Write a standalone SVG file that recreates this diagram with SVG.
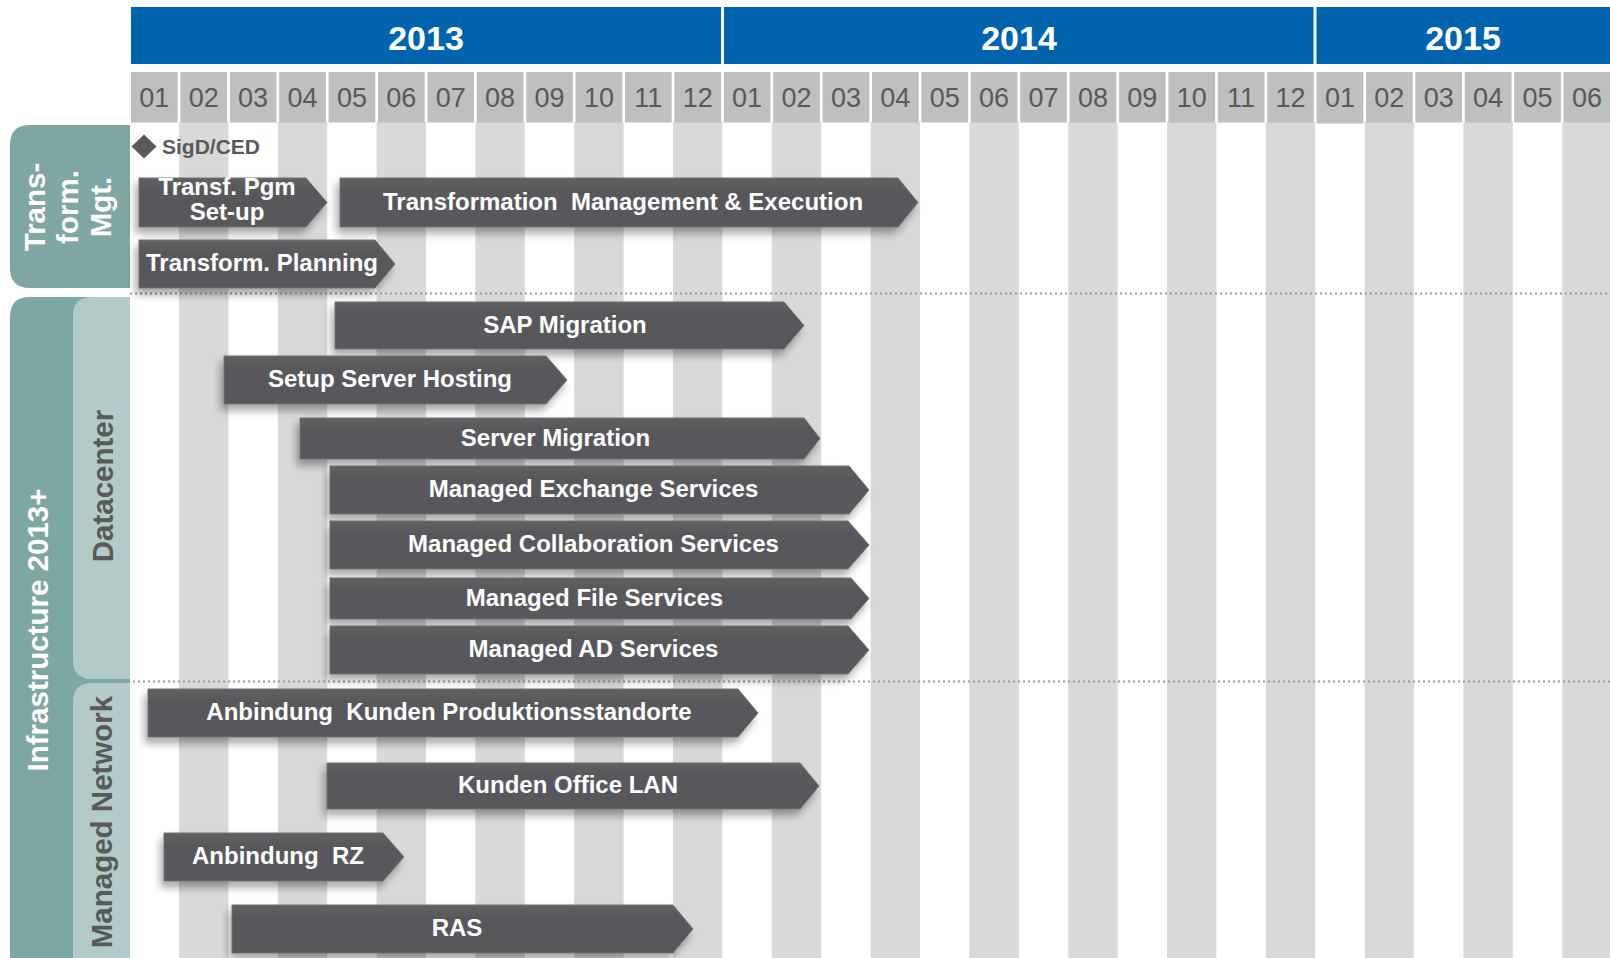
<svg xmlns="http://www.w3.org/2000/svg" width="1610" height="958" viewBox="0 0 1610 958">
<defs>
<style>
.yr{fill:#0063ae}
.yt{font-family:"Liberation Sans",Arial,sans-serif;font-weight:bold;font-size:34px;fill:#fff;text-anchor:middle}
.mc{fill:#bfbfbf}
.mt{font-family:"Liberation Sans",Arial,sans-serif;font-size:27px;fill:#595959;text-anchor:middle}
.st{fill:#d9d9d9}
.bar{fill:url(#bg);stroke:#6f7072;stroke-width:1;filter:url(#sh)}
.bt{font-family:"Liberation Sans",Arial,sans-serif;font-weight:bold;font-size:24px;fill:#fff;text-anchor:middle}
.lt{font-family:"Liberation Sans",Arial,sans-serif;font-weight:bold;font-size:29.5px;text-anchor:middle}
.sep{stroke:#9a9a9a;stroke-width:2;stroke-dasharray:2 3;fill:none}
</style>
<linearGradient id="bg" x1="0" y1="0" x2="0" y2="1">
<stop offset="0" stop-color="#5f6062"/>
<stop offset="0.25" stop-color="#58595b"/>
<stop offset="1" stop-color="#58595b"/>
</linearGradient>
<filter id="sh" x="-10%" y="-30%" width="120%" height="180%">
<feGaussianBlur in="SourceAlpha" stdDeviation="4"/>
<feOffset dx="-3" dy="6" result="b"/>
<feComponentTransfer><feFuncA type="linear" slope="0.35"/></feComponentTransfer>
<feMerge><feMergeNode/><feMergeNode in="SourceGraphic"/></feMerge>
</filter>
</defs>
<rect width="1610" height="958" fill="#fff"/>

<g id="stripes">
<rect class="st" x="179" y="122" width="49.4" height="836"/>
<rect class="st" x="277.8" y="122" width="49.4" height="836"/>
<rect class="st" x="376.6" y="122" width="49.4" height="836"/>
<rect class="st" x="475.4" y="122" width="49.4" height="836"/>
<rect class="st" x="574.2" y="122" width="49.4" height="836"/>
<rect class="st" x="673" y="122" width="49.4" height="836"/>
<rect class="st" x="771.8" y="122" width="49.4" height="836"/>
<rect class="st" x="870.6" y="122" width="49.4" height="836"/>
<rect class="st" x="969.4" y="122" width="49.4" height="836"/>
<rect class="st" x="1068.2" y="122" width="49.4" height="836"/>
<rect class="st" x="1167" y="122" width="49.4" height="836"/>
<rect class="st" x="1265.8" y="122" width="49.4" height="836"/>
<rect class="st" x="1364.6" y="122" width="49.4" height="836"/>
<rect class="st" x="1463.4" y="122" width="49.4" height="836"/>
<rect class="st" x="1562.2" y="122" width="49.4" height="836"/>
</g>

<g id="years">
<rect class="yr" x="131" y="7" width="590" height="57"/>
<text class="yt" x="426" y="50">2013</text>
<rect class="yr" x="724" y="7" width="589.5" height="57"/>
<text class="yt" x="1019" y="50">2014</text>
<rect class="yr" x="1316.5" y="7" width="293.5" height="57"/>
<text class="yt" x="1463" y="50">2015</text>
</g>

<g id="months">
<rect class="mc" x="131" y="72" width="46.7" height="50.5"/><text class="mt" x="154.3" y="107">01</text>
<rect class="mc" x="180.4" y="72" width="46.7" height="50.5"/><text class="mt" x="203.7" y="107">02</text>
<rect class="mc" x="229.8" y="72" width="46.7" height="50.5"/><text class="mt" x="253.1" y="107">03</text>
<rect class="mc" x="279.2" y="72" width="46.7" height="50.5"/><text class="mt" x="302.5" y="107">04</text>
<rect class="mc" x="328.6" y="72" width="46.7" height="50.5"/><text class="mt" x="351.9" y="107">05</text>
<rect class="mc" x="378" y="72" width="46.7" height="50.5"/><text class="mt" x="401.3" y="107">06</text>
<rect class="mc" x="427.4" y="72" width="46.7" height="50.5"/><text class="mt" x="450.7" y="107">07</text>
<rect class="mc" x="476.8" y="72" width="46.7" height="50.5"/><text class="mt" x="500.1" y="107">08</text>
<rect class="mc" x="526.2" y="72" width="46.7" height="50.5"/><text class="mt" x="549.5" y="107">09</text>
<rect class="mc" x="575.6" y="72" width="46.7" height="50.5"/><text class="mt" x="598.9" y="107">10</text>
<rect class="mc" x="625" y="72" width="46.7" height="50.5"/><text class="mt" x="648.3" y="107">11</text>
<rect class="mc" x="674.4" y="72" width="46.7" height="50.5"/><text class="mt" x="697.7" y="107">12</text>
<rect class="mc" x="723.8" y="72" width="46.7" height="50.5"/><text class="mt" x="747.1" y="107">01</text>
<rect class="mc" x="773.2" y="72" width="46.7" height="50.5"/><text class="mt" x="796.5" y="107">02</text>
<rect class="mc" x="822.6" y="72" width="46.7" height="50.5"/><text class="mt" x="845.9" y="107">03</text>
<rect class="mc" x="872" y="72" width="46.7" height="50.5"/><text class="mt" x="895.3" y="107">04</text>
<rect class="mc" x="921.4" y="72" width="46.7" height="50.5"/><text class="mt" x="944.7" y="107">05</text>
<rect class="mc" x="970.8" y="72" width="46.7" height="50.5"/><text class="mt" x="994.1" y="107">06</text>
<rect class="mc" x="1020.2" y="72" width="46.7" height="50.5"/><text class="mt" x="1043.5" y="107">07</text>
<rect class="mc" x="1069.6" y="72" width="46.7" height="50.5"/><text class="mt" x="1092.9" y="107">08</text>
<rect class="mc" x="1119" y="72" width="46.7" height="50.5"/><text class="mt" x="1142.3" y="107">09</text>
<rect class="mc" x="1168.4" y="72" width="46.7" height="50.5"/><text class="mt" x="1191.7" y="107">10</text>
<rect class="mc" x="1217.8" y="72" width="46.7" height="50.5"/><text class="mt" x="1241.1" y="107">11</text>
<rect class="mc" x="1267.2" y="72" width="46.7" height="50.5"/><text class="mt" x="1290.5" y="107">12</text>
<rect class="mc" x="1316.6" y="72" width="46.7" height="51.5"/><text class="mt" x="1339.9" y="107">01</text>
<rect class="mc" x="1366" y="72" width="46.7" height="50.5"/><text class="mt" x="1389.3" y="107">02</text>
<rect class="mc" x="1415.4" y="72" width="46.7" height="50.5"/><text class="mt" x="1438.7" y="107">03</text>
<rect class="mc" x="1464.8" y="72" width="46.7" height="50.5"/><text class="mt" x="1488.1" y="107">04</text>
<rect class="mc" x="1514.2" y="72" width="46.7" height="50.5"/><text class="mt" x="1537.5" y="107">05</text>
<rect class="mc" x="1563.6" y="72" width="46.4" height="50.5"/><text class="mt" x="1586.9" y="107">06</text>
</g>

<g id="connectors">
<line class="sep" x1="130" y1="293.5" x2="1610" y2="293.5"/>
<line class="sep" x1="128" y1="681.5" x2="1610" y2="681.5"/>
</g>

<g id="group-transform">
<path d="M30,125 H130 V288 H30 Q10,288 10,268 V145 Q10,125 30,125 Z" fill="#7ea6a2"/>
<text class="lt" fill="#fff" transform="translate(45,207) rotate(-90)">Trans-</text>
<text class="lt" fill="#fff" transform="translate(78,207) rotate(-90)">form.</text>
<text class="lt" fill="#fff" transform="translate(111,207) rotate(-90)">Mgt.</text>
</g>

<g id="group-infrastructure">
<path d="M30,297 H130 V958 H10 V317 Q10,297 30,297 Z" fill="#7ea6a2"/>
<text class="lt" fill="#fff" transform="translate(48,630) rotate(-90)">Infrastructure 2013+</text>
</g>
<g id="group-datacenter">
<path d="M92,297 H130 V679 H92 Q73,679 73,660 V316 Q73,297 92,297 Z" fill="#b2cbc8"/>
<text class="lt" fill="#595959" transform="translate(113,486) rotate(-90)">Datacenter</text>
</g>
<g id="group-network">
<path d="M92,683 H130 V958 H73 V702 Q73,683 92,683 Z" fill="#b2cbc8"/>
<text class="lt" fill="#595959" transform="translate(112,822) rotate(-90)">Managed Network</text>
</g>

<g id="milestone-sigd">
<polygon points="131.5,146.5 144,134.5 156.5,146.5 144,158.5" fill="#595959"/>
<text x="162" y="154" font-family="Liberation Sans, Arial, sans-serif" font-weight="bold" font-size="21" fill="#595959">SigD/CED</text>
</g>

<g id="bar-pgm-setup">
<polygon class="bar" points="139,178 306,178 327,202.5 306,227 139,227"/>
<text class="bt" x="227" y="195">Transf. Pgm</text>
<text class="bt" x="227" y="220">Set-up</text>
</g>
<g id="bar-tme">
<polygon class="bar" points="340,178 898,178 918,202.5 898,227 340,227"/>
<text class="bt" x="623" y="209.5" xml:space="preserve">Transformation  Management &amp; Execution</text>
</g>
<g id="bar-planning">
<polygon class="bar" points="139,240 375,240 395,264 375,288 139,288"/>
<text class="bt" x="262" y="271">Transform. Planning</text>
</g>
<g id="bar-sap">
<polygon class="bar" points="335,302 784,302 804,325.5 784,349 335,349"/>
<text class="bt" x="565" y="332.5">SAP Migration</text>
</g>
<g id="bar-setup-hosting">
<polygon class="bar" points="224,356 546,356 567,380 546,404 224,404"/>
<text class="bt" x="390" y="387">Setup Server Hosting</text>
</g>
<g id="bar-server-migration">
<polygon class="bar" points="300,418 804,418 820,438.5 804,459 300,459"/>
<text class="bt" x="555.5" y="445.5">Server Migration</text>
</g>
<g id="bar-exchange">
<polygon class="bar" points="330,466 849,466 869,490 849,514 330,514"/>
<text class="bt" x="593.5" y="497">Managed Exchange Services</text>
</g>
<g id="bar-collab">
<polygon class="bar" points="330,521 848,521 869,545 848,569 330,569"/>
<text class="bt" x="593.5" y="552">Managed Collaboration Services</text>
</g>
<g id="bar-file">
<polygon class="bar" points="330,578 851,578 869,598.5 851,619 330,619"/>
<text class="bt" x="594.5" y="605.5">Managed File Services</text>
</g>
<g id="bar-ad">
<polygon class="bar" points="330,626 848,626 869,650 848,674 330,674"/>
<text class="bt" x="593.5" y="657">Managed AD Services</text>
</g>
<g id="bar-anbindung-kp">
<polygon class="bar" points="148,689 738,689 758,713 738,737 148,737"/>
<text class="bt" x="449" y="720" xml:space="preserve">Anbindung  Kunden Produktionsstandorte</text>
</g>
<g id="bar-office-lan">
<polygon class="bar" points="327,763 800,763 819,786 800,809 327,809"/>
<text class="bt" x="568" y="793">Kunden Office LAN</text>
</g>
<g id="bar-anbindung-rz">
<polygon class="bar" points="164,833 383,833 404,857 383,881 164,881"/>
<text class="bt" x="278" y="864" xml:space="preserve">Anbindung  RZ</text>
</g>
<g id="bar-ras">
<polygon class="bar" points="232,905 673,905 693,929 673,953 232,953"/>
<text class="bt" x="457" y="936">RAS</text>
</g>
</svg>
